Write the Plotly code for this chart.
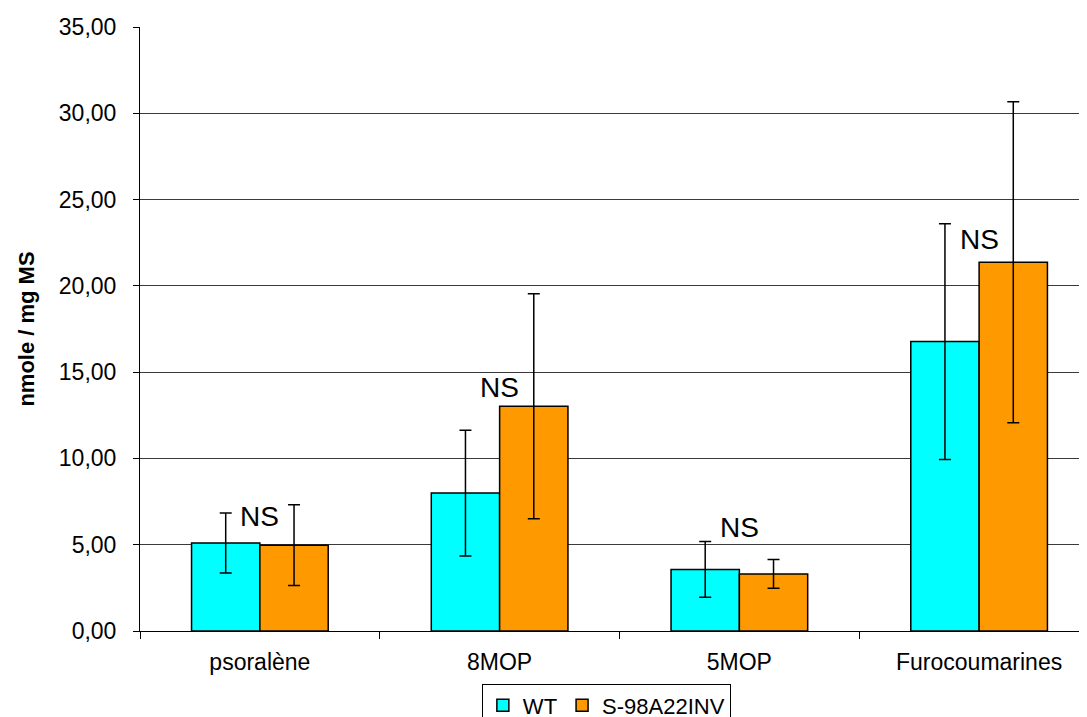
import plotly.graph_objects as go

categories = ["psoralène", "8MOP", "5MOP", "Furocoumarines"]
wt_values = [5.10, 7.99, 3.57, 16.77]
wt_errors = [1.74, 3.64, 1.61, 6.83]
mut_values = [4.97, 13.02, 3.31, 21.37]
mut_errors = [2.34, 6.52, 0.84, 9.30]
ns_labels = ["NS", "NS", "NS", "NS"]
ns_y = [6.65, 14.1, 6.0, 22.7]
y_ticks = [0, 5, 10, 15, 20, 25, 30, 35]

FONT = "Liberation Sans, Arial, sans-serif"

fig = go.Figure()
fig.add_trace(go.Bar(
    name="WT", x=categories, y=wt_values,
    marker=dict(color="#00FFFF", line=dict(color="black", width=1.5)),
    error_y=dict(type="data", array=wt_errors, color="black", thickness=1.5, width=6),
))
fig.add_trace(go.Bar(
    name="S-98A22INV", x=categories, y=mut_values,
    marker=dict(color="#FF9900", line=dict(color="black", width=1.5)),
    error_y=dict(type="data", array=mut_errors, color="black", thickness=1.5, width=6),
))

for c, t, yv in zip(categories, ns_labels, ns_y):
    fig.add_annotation(x=c, y=yv, text=t, showarrow=False,
                       font=dict(family=FONT, size=28, color="black"))

fig.update_layout(
    width=1087, height=717,
    margin=dict(l=132, r=8, t=19, b=94, autoexpand=False),
    paper_bgcolor="white", plot_bgcolor="white",
    barmode="group", bargap=0.43, bargroupgap=0,
    separators=", ",
    font=dict(family=FONT, color="black"),
    showlegend=True,
    legend=dict(
        orientation="h", x=0.361, xanchor="left", y=-0.087, yanchor="top",
        bordercolor="black", borderwidth=1, bgcolor="white",
        font=dict(family=FONT, size=22, color="black"),
        traceorder="normal",
    ),
)
fig.update_xaxes(
    type="category", range=[-0.5, 3.45], automargin=False,
    showline=True, linecolor="black", linewidth=1,
    ticks="outside", tickson="boundaries", ticklen=7, tickcolor="black",
    tickfont=dict(family=FONT, size=23, color="black"),
    ticklabelstandoff=10,
    showgrid=False, zeroline=False,
)
fig.update_yaxes(
    range=[0, 35], tickvals=y_ticks, tickformat=".2f", automargin=False,
    showline=True, linecolor="black", linewidth=1,
    ticks="outside", ticklen=6, tickcolor="black",
    tickfont=dict(family=FONT, size=23, color="black"),
    ticklabelstandoff=12,
    showgrid=True, gridcolor="#3a3a3a", gridwidth=1,
    zeroline=False,
    title=dict(text="<b>nmole / mg MS</b>", font=dict(family=FONT, size=22, color="black"), standoff=18),
)

fig.write_html("out.html")
